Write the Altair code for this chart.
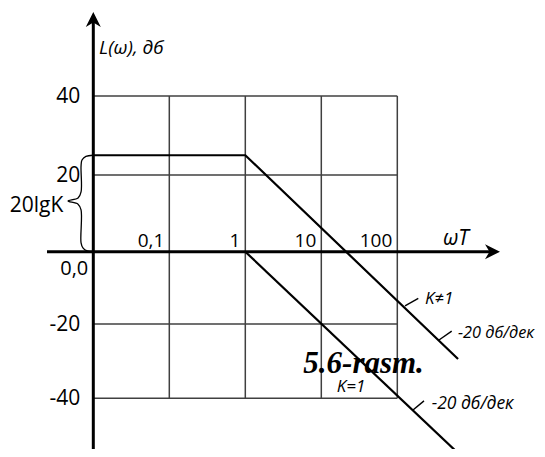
import altair as alt
import pandas as pd

# ---------------- data (x: ωT, log scale;  y: L(ω) in dB) ----------------
x_tick_values = [0.1, 1, 10, 100]
x_tick_labels = ["0,1", "1", "10", "100"]
y_tick_values = [40, 20, -20, -40]
y_tick_labels = ["40", "20", "-20", "-40"]

grid_w = [0.01, 100]      # horizontal extent of the grid
grid_db = [-40, 40]       # vertical extent of the grid

# LAFC for K != 1  (20lgK = 25 dB, break at ωT = 1, then -20 dB/dec)
k_w = [0.01, 1, 630]
k_db = [25, 25, -29.4]
# LAFC for K = 1
one_w = [1, 648]
one_db = [0, -55]

# brace marking 20lgK
brace_w = [0.0099, 0.0080, 0.0071, 0.0069, 0.0069, 0.0063, 0.00465, 0.0063, 0.0069, 0.0069, 0.0073, 0.0083, 0.0099]
brace_db = [25, 24.7, 23.8, 22.3, 15.6, 14.0, 13.2, 12.4, 10.9, 2.3, 1.0, 0.2, 0.0]

# axis lines and arrow heads
x_axis_w = [0.00246, 1789]
y_axis_db = [-56, 59.4]

# annotation texts and their anchors (data units)
ann_text = ["K≠1", "K=1"]
ann_w = [231.5, 15.94]
ann_db = [-14.55, -38.22]
slope_text = ["-20 дб/дек", "-20 дб/дек"]
slope_w = [629, 283.6]
slope_db = [-23.77, -42.96]
slope_size = [16.3, 17.5]
leader_w = [126.3, 353.8, 160.9]
leader_w2 = [188.9, 519.7, 224.5]
leader_db = [-15.0, -24.3, -43.15]
leader_db2 = [-12.9, -21.9, -40.7]

# ---------------- scales ----------------
x_scale = alt.Scale(type="log", domain=[0.0007543, 6888], nice=False)
y_scale = alt.Scale(type="linear",
                    domain=[-53.65, -40, -20, 0, 20, 40, 62.28],
                    range=[441, 390.3, 316, 243.7, 167, 88, 0],
                    nice=False, zero=False)

X = alt.X("w:Q", scale=x_scale, axis=None)
Y = alt.Y("db:Q", scale=y_scale, axis=None)

FONT = "Open Sans"

# grid
hgrid = alt.Chart(pd.DataFrame({"db": y_tick_values, "w": grid_w[0], "w2": grid_w[1]})).mark_rule(
    color="#404040", strokeWidth=1.5).encode(x=X, x2="w2:Q", y=Y)
vgrid = alt.Chart(pd.DataFrame({"w": x_tick_values, "db": grid_db[0], "db2": grid_db[1]})).mark_rule(
    color="#404040", strokeWidth=1.5).encode(x=X, y=Y, y2="db2:Q")

# axes
xaxis = alt.Chart(pd.DataFrame({"w": [x_axis_w[0]], "w2": [x_axis_w[1]], "db": [0]})).mark_rule(
    color="black", strokeWidth=3).encode(x=X, x2="w2:Q", y=Y)
yaxis = alt.Chart(pd.DataFrame({"w": [0.01], "db": [y_axis_db[0]], "db2": [y_axis_db[1]]})).mark_rule(
    color="black", strokeWidth=3).encode(x=X, y=Y, y2="db2:Q")
xarrow = alt.Chart(pd.DataFrame({"w": [x_axis_w[1]], "db": [0]})).mark_point(
    shape="M1,0 L-1,1 L-0.4,0 L-1,-1 Z", filled=True, size=225, color="black", opacity=1,
    strokeWidth=0).encode(x=X, y=Y)
yarrow = alt.Chart(pd.DataFrame({"w": [0.01], "db": [y_axis_db[1]]})).mark_point(
    shape="M0,-1 L1,1 L0,0.4 L-1,1 Z", filled=True, size=225, color="black", opacity=1,
    strokeWidth=0).encode(x=X, y=Y)

# LAFC lines
def line_df(ws, dbs):
    return pd.DataFrame({"w": ws, "db": dbs, "i": list(range(len(ws)))})

k_line = alt.Chart(line_df(k_w, k_db)).mark_line(color="black", strokeWidth=2.2).encode(
    x=X, y=Y, order="i:Q")
one_line = alt.Chart(line_df(one_w, one_db)).mark_line(color="black", strokeWidth=2.2).encode(
    x=X, y=Y, order="i:Q")
brace = alt.Chart(line_df(brace_w, brace_db)).mark_line(
    color="black", strokeWidth=1.3, interpolate="catmull-rom").encode(x=X, y=Y, order="i:Q")

leaders = alt.Chart(pd.DataFrame({"w": leader_w, "w2": leader_w2, "db": leader_db, "db2": leader_db2})).mark_rule(
    color="black", strokeWidth=1.4).encode(x=X, x2="w2:Q", y=Y, y2="db2:Q")

# tick labels
ylabels = alt.Chart(pd.DataFrame({"w": 0.01, "db": y_tick_values, "t": y_tick_labels})).mark_text(
    align="right", baseline="middle", dx=-13, dy=1, font=FONT, fontSize=21, color="black").encode(
    x=X, y=Y, text="t:N")
xlabels = alt.Chart(pd.DataFrame({"w": x_tick_values, "db": 0, "t": x_tick_labels})).mark_text(
    align="right", baseline="alphabetic", dx=-5, dy=-5, font=FONT, fontSize=19, color="black").encode(
    x=X, y=Y, text="t:N")
origin = alt.Chart(pd.DataFrame({"w": [0.01], "db": [0], "t": ["0,0"]})).mark_text(
    align="right", baseline="alphabetic", dx=-5, dy=23.5, font=FONT, fontSize=20, color="black").encode(
    x=X, y=Y, text="t:N")
lgk = alt.Chart(pd.DataFrame({"w": [0.01], "db": [10.35], "t": ["20lgK"]})).mark_text(
    align="right", baseline="alphabetic", dx=-30, font=FONT, fontSize=21, color="black").encode(
    x=X, y=Y, text="t:N")

# axis titles
ytitle = alt.Chart(pd.DataFrame({"w": [0.0119], "db": [50.6], "t": ["L(ω), дб"]})).mark_text(
    align="left", baseline="alphabetic", font=FONT, fontSize=19, fontStyle="italic", color="black").encode(
    x=X, y=Y, text="t:N")
xtitle = alt.Chart(pd.DataFrame({"w": [399], "db": [1.75], "t": ["ωT"]})).mark_text(
    align="left", baseline="alphabetic", font=FONT, fontSize=21, fontStyle="italic", color="black").encode(
    x=X, y=Y, text="t:N")

# annotations
ann = alt.Chart(pd.DataFrame({"w": ann_w, "db": ann_db, "t": ann_text})).mark_text(
    align="left", baseline="alphabetic", font=FONT, fontSize=17, fontStyle="italic", color="black").encode(
    x=X, y=Y, text="t:N")
slopes = alt.Chart(pd.DataFrame({"w": slope_w, "db": slope_db, "t": slope_text, "fs": slope_size})).mark_text(
    align="left", baseline="alphabetic", font=FONT, fontStyle="italic", color="black").encode(
    x=X, y=Y, text="t:N", size=alt.Size("fs:Q", scale=None))
caption = alt.Chart(pd.DataFrame({"w": [5.797], "db": [-33.11], "t": ["5.6-rasm."]})).mark_text(
    align="left", baseline="alphabetic", font="Liberation Serif", fontSize=31, fontWeight="bold",
    fontStyle="italic", color="black").encode(x=X, y=Y, text="t:N")

chart = alt.layer(
    hgrid, vgrid, k_line, one_line, brace, xaxis, yaxis, xarrow, yarrow, leaders,
    ylabels, xlabels, origin, lgk, ytitle, xtitle, ann, slopes, caption
).properties(
    width=529, height=441, padding=0, autosize=alt.AutoSizeParams(type="none"),
    background="white"
).configure_view(stroke=None)

chart.save("out.html", embed_options={"renderer": "svg", "actions": False})
